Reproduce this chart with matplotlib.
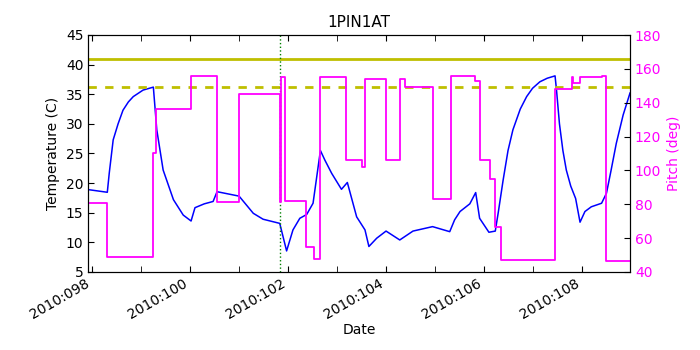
import matplotlib
matplotlib.use('Agg')
import matplotlib.pyplot as plt
from matplotlib.ticker import FixedLocator, FuncFormatter

# day of year 2010 vs temperature
temp_day = [97.93, 98.32, 98.36, 98.44, 98.54, 98.64, 98.75, 98.85, 99.05, 99.26,
            99.33, 99.46, 99.67, 99.87, 100.03, 100.11, 100.3, 100.48, 100.56, 101.01,
            101.1, 101.3, 101.5, 101.84, 101.98, 102.11, 102.25, 102.39, 102.52, 102.67,
            102.76, 102.9, 103.1, 103.22, 103.41, 103.58, 103.66, 103.82, 104.01, 104.29,
            104.56, 104.96, 105.31, 105.41, 105.52, 105.72, 105.84, 105.92, 106.11, 106.24,
            106.3, 106.4, 106.5, 106.6, 106.75, 106.88, 107.0, 107.15, 107.3, 107.46,
            107.49, 107.55, 107.62, 107.69, 107.78, 107.88, 107.97, 108.07, 108.2, 108.41,
            108.51, 108.6, 108.71, 108.85, 108.99]
temp = [18.9, 18.45, 21.7, 27.3, 30.0, 32.3, 33.7, 34.6, 35.7, 36.2,
        29.0, 22.2, 17.2, 14.6, 13.6, 15.85, 16.5, 16.9, 18.55, 17.8,
        16.9, 14.9, 13.9, 13.2, 8.55, 12.1, 14.06, 14.7, 16.6, 25.5,
        23.9, 21.65, 18.95, 20.1, 14.3, 12.1, 9.3, 10.7, 11.9, 10.4,
        11.9, 12.65, 11.8, 13.8, 15.2, 16.5, 18.4, 14.06, 11.7, 11.9,
        15.0, 20.5, 25.5, 29.0, 32.5, 34.6, 36.0, 37.1, 37.7, 38.1,
        35.7, 30.0, 25.5, 22.2, 19.5, 17.4, 13.4, 15.2, 16.0, 16.6,
        18.3, 22.0, 26.7, 31.5, 35.2]

# pitch, piecewise constant (value holds until next time)
pitch_day = [97.93, 98.32, 99.26, 99.31, 100.03, 100.56, 101.01, 101.84, 101.86, 101.94,
             102.37, 102.54, 102.67, 103.2, 103.52, 103.58, 104.01, 104.29, 104.39, 104.96,
             105.33, 105.82, 105.93, 106.13, 106.23, 106.35, 107.46, 107.8, 107.83, 107.96,
             108.41, 108.5, 108.99]
pitch = [80.5, 49.1, 110.0, 136.1, 155.8, 81.6, 145.2, 81.6, 155.4, 82.0,
         54.6, 47.9, 155.4, 106.2, 102.2, 154.2, 106.2, 154.2, 149.5, 83.0,
         155.8, 153.0, 106.2, 95.0, 66.4, 47.1, 148.1, 155.4, 151.5, 155.0,
         155.8, 46.7, 46.7]

planning_limit = 41.0
caution_limit = 36.3
now_day = 101.84

plt.rcParams['font.size'] = 10
fig = plt.figure(figsize=(7, 3.5), dpi=100)
ax = fig.add_axes([0.126, 0.223, 0.774, 0.677])

ax.plot(temp_day, temp, color='#0000ff', lw=1.1)
ax.axhline(planning_limit, color=(0.75, 0.75, 0), lw=2)
ax.axhline(caution_limit, color=(0.75, 0.75, 0), lw=2, ls='--', dashes=(3, 3))
ax.axvline(now_day, color='green', ls=':', lw=1)
ax.set_xlim(temp_day[0], temp_day[-1])
ax.set_ylim(5, 45)
ax.set_yticks(range(5, 46, 5))
ax.set_ylabel('Temperature (C)')
ax.set_xlabel('Date', labelpad=1)
ax.set_title('1PIN1AT', fontsize=11)

ax.xaxis.set_major_locator(FixedLocator(range(98, 109, 2)))
ax.xaxis.set_minor_locator(FixedLocator(range(99, 109, 2)))
ax.xaxis.set_major_formatter(FuncFormatter(lambda v, p: '2010:%03d' % int(round(v))))
ax.tick_params(axis='both', which='both', direction='in', length=4, top=True)
ax.tick_params(axis='y', right=False)
for lbl in ax.get_xticklabels():
    lbl.set_rotation(30)
    lbl.set_ha('right')

ax2 = ax.twinx()
ax2.plot(pitch_day, pitch, color='#ff00ff', lw=1.3, drawstyle='steps-post')
ax2.set_ylim(40, 180)
ax2.set_yticks(range(40, 181, 20))
ax2.set_ylabel('Pitch (deg)', color='#ff00ff')
ax2.tick_params(axis='y', direction='in', length=4, labelcolor='#ff00ff')
ax2.set_xlim(temp_day[0], temp_day[-1])

fig.savefig('out.png', dpi=100, facecolor='white')
